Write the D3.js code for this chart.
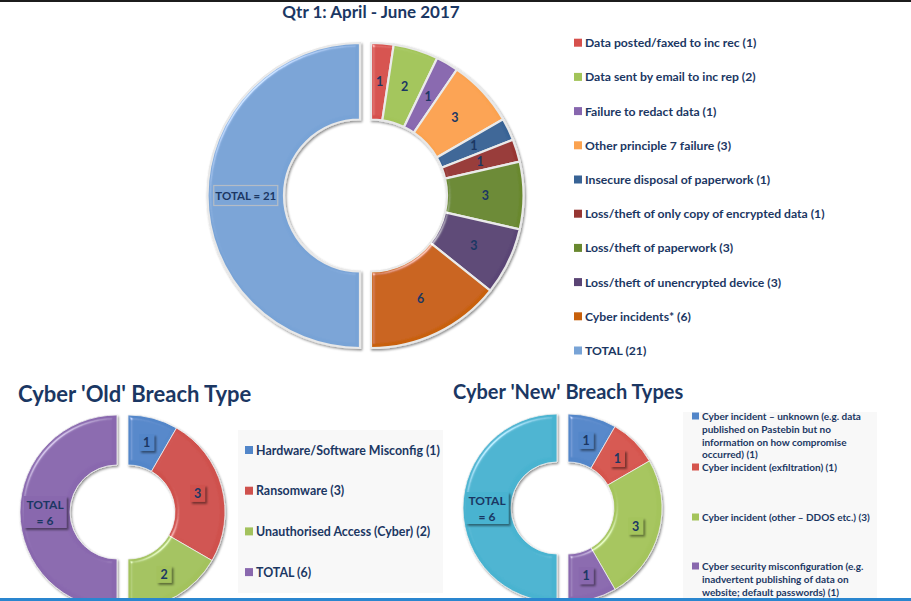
<!DOCTYPE html>
<html><head><meta charset="utf-8">
<script src="https://cdn.jsdelivr.net/npm/d3@7"></script>
<style>
html,body{margin:0;padding:0;background:#fff;}
svg{display:block;font-family:Lato,"Open Sans",sans-serif;}
</style></head>
<body>
<script>
// ---------- DATA ----------
const mainTitle = "Qtr 1: April - June 2017";
const mainCategories = ["Data posted/faxed to inc rec","Data sent by email to inc rep","Failure to redact data","Other principle 7 failure","Insecure disposal of paperwork","Loss/theft of only copy of encrypted data","Loss/theft of paperwork","Loss/theft of unencrypted device","Cyber incidents*","TOTAL"];
const mainValues = [1,2,1,3,1,1,3,3,6,21];
const mainColors = ["#d6504c","#a2c459","#8766ae","#fba24f","#386395","#963532","#69882f","#5a4474","#c8600a","#78a3d6"];

const oldTitle = "Cyber 'Old' Breach Type";
const oldCategories = ["Hardware/Software Misconfig","Ransomware","Unauthorised Access (Cyber)","TOTAL"];
const oldValues = [1,3,2,6];
const oldColors = ["#5286c9","#cf514d","#a3c25d","#8968ae"];

const newTitle = "Cyber 'New' Breach Types";
const newCategories = ["Cyber incident \u2013 unknown (e.g. data published on Pastebin but no information on how compromise occurred)","Cyber incident (exfiltration)","Cyber incident (other \u2013 DDOS etc.)","Cyber security misconfiguration (e.g. inadvertent publishing of data on website; default passwords)","TOTAL"];
const newValues = [1,1,3,1,6];
const newColors = ["#5286c9","#d5554d","#a4c45b","#8968ae","#4ab3d0"];

// ---------- SETUP ----------
const W = 911, H = 601;
const navy = "#1b3763";
const svg = d3.select("body").append("svg").attr("width", W).attr("height", H);
svg.append("rect").attr("width", W).attr("height", H).attr("fill", "#fff");

const defs = svg.append("defs");
const bev = defs.append("filter").attr("id","bev").attr("x","-20%").attr("y","-20%").attr("width","140%").attr("height","140%");
bev.append("feGaussianBlur").attr("in","SourceAlpha").attr("stdDeviation",2).attr("result","b");
const sp = bev.append("feSpecularLighting").attr("in","b").attr("surfaceScale",4).attr("specularConstant",0.45)
  .attr("specularExponent",35).attr("lighting-color","#ffffff").attr("result","s");
sp.append("feDistantLight").attr("azimuth",225).attr("elevation",38);
bev.append("feComposite").attr("in","s").attr("in2","SourceAlpha").attr("operator","in").attr("result","s2");
bev.append("feComposite").attr("in","SourceGraphic").attr("in2","s2").attr("operator","arithmetic")
  .attr("k1",0).attr("k2",1).attr("k3",1).attr("k4",0).attr("result","lit");
bev.append("feDropShadow").attr("in","lit").attr("dx",1.2).attr("dy",1.5).attr("stdDeviation",1.3)
  .attr("flood-color","#000").attr("flood-opacity",0.45);

const shadowF = defs.append("filter").attr("id","lblsh").attr("x","-30%").attr("y","-30%").attr("width","170%").attr("height","170%");
shadowF.append("feDropShadow").attr("dx",2).attr("dy",2).attr("stdDeviation",1.2).attr("flood-color","#000").attr("flood-opacity",0.45);

// top dark edge
svg.append("rect").attr("x",0).attr("y",0).attr("width",W).attr("height",2).attr("fill","#1c1c1c");

function donut(opt){
  const g = svg.append("g").attr("transform",`translate(${opt.cx},${opt.cy})`);
  const pie = d3.pie().sort(null).value(d=>d)(opt.values);
  const arc = d3.arc().innerRadius(opt.ri).outerRadius(opt.ro);
  const last = opt.values.length - 1;
  const slices = g.append("g").attr("filter","url(#bev)");
  pie.forEach((p,i)=>{
    const dx = i===last ? -opt.gap : opt.gap;
    slices.append("path").attr("transform",`translate(${dx},0)`)
      .attr("d",arc(p)).attr("fill",opt.colors[i])
      .attr("stroke",opt.stroke).attr("stroke-width",opt.strokeW);
  });
  const lblArc = d3.arc().innerRadius((opt.ri+opt.ro)/2).outerRadius((opt.ri+opt.ro)/2);
  pie.forEach((p,i)=>{
    const dx = i===last ? -opt.gap : opt.gap;
    const [x,y] = lblArc.centroid(p);
    const lg = g.append("g").attr("transform",`translate(${x+dx},${y})`);
    if(i===last){
      if(opt.boxed){
        lg.append("rect").attr("x",-21.5).attr("y",-16).attr("width",43).attr("height",32)
          .attr("fill",opt.colors[i]).attr("filter","url(#lblsh)");
        lg.append("text").attr("y",-7.5).attr("text-anchor","middle").attr("dominant-baseline","central")
          .attr("font-size",12).attr("font-weight","bold").attr("fill",navy).text("TOTAL");
        lg.append("text").attr("y",8).attr("text-anchor","middle").attr("dominant-baseline","central")
          .attr("font-size",12).attr("font-weight","bold").attr("fill",navy).text("= " + opt.values[i]);
      } else {
        lg.append("rect").attr("x",-32).attr("y",-10).attr("width",64).attr("height",20)
          .attr("fill","none").attr("stroke","#b4bcc6").attr("stroke-width",1.2);
        lg.append("text").attr("text-anchor","middle").attr("dominant-baseline","central")
          .attr("font-size",11.5).attr("font-weight","bold").attr("fill",navy).text("TOTAL = " + opt.values[i]);
      }
    } else {
      if(opt.boxed){
        lg.append("rect").attr("x",-7.5).attr("y",-8.5).attr("width",15).attr("height",17)
          .attr("fill",opt.colors[i]).attr("filter","url(#lblsh)");
      }
      lg.append("text").attr("text-anchor","middle").attr("dominant-baseline","central")
        .attr("font-size",12.5).attr("font-weight","bold").attr("fill",navy).text(opt.values[i]);
    }
  });
}

// ---------- MAIN ----------
svg.append("text").attr("x",371).attr("y",18).attr("text-anchor","middle")
  .attr("font-size",17).attr("font-weight","bold").attr("fill",navy).text(mainTitle);
donut({cx:365.5, cy:195.5, ri:76, ro:152.5, gap:5.5, values:mainValues, colors:mainColors, boxed:false, stroke:"#e8e8e8", strokeW:2.2});

const mainLeg = svg.append("g");
mainCategories.forEach((c,i)=>{
  const y = 42.7 + i*34.2;
  mainLeg.append("rect").attr("x",574).attr("y",y-4).attr("width",8).attr("height",8).attr("fill",mainColors[i]);
  mainLeg.append("text").attr("x",585).attr("y",y).attr("dominant-baseline","central")
    .attr("font-size",12.2).attr("font-weight","bold").attr("fill",navy).text(`${c} (${mainValues[i]})`);
});

// ---------- OLD ----------
svg.append("text").attr("x",18).attr("y",402).attr("font-size",22).attr("font-weight","bold").attr("fill",navy).text(oldTitle);
svg.append("rect").attr("x",238).attr("y",430).attr("width",205).attr("height",163).attr("fill","#f8f8f8");
donut({cx:122.5, cy:512, ri:47, ro:97, gap:5.5, values:oldValues, colors:oldColors, boxed:true, stroke:"#f0f0f0", strokeW:0.8});
oldCategories.forEach((c,i)=>{
  const y = 450 + i*40.7;
  svg.append("rect").attr("x",245).attr("y",y-4).attr("width",8).attr("height",8).attr("fill",oldColors[i]);
  svg.append("text").attr("x",256).attr("y",y).attr("dominant-baseline","central")
    .attr("font-size",12.4).attr("font-weight","bold").attr("fill",navy).text(`${c} (${oldValues[i]})`);
});

// ---------- NEW ----------
svg.append("text").attr("x",453).attr("y",399).attr("font-size",20).attr("font-weight","bold").attr("fill",navy).text(newTitle);
svg.append("rect").attr("x",683).attr("y",412).attr("width",194).attr("height",189).attr("fill","#f8f8f8");
donut({cx:562.5, cy:508, ri:46, ro:94, gap:5.5, values:newValues, colors:newColors, boxed:true, stroke:"#f0f0f0", strokeW:0.8});

const newLegY = [416, 467, 517, 566];
const newLegCount = newCategories.length - 1; // TOTAL not listed
for(let i=0;i<newLegCount;i++){
  const y0 = newLegY[i];
  svg.append("rect").attr("x",692).attr("y",y0-3.5).attr("width",7).attr("height",7).attr("fill",newColors[i]);
  const t = svg.append("text").attr("font-size",10).attr("font-weight","bold").attr("fill",navy);
  const words = `${newCategories[i]} (${newValues[i]})`.split(" ");
  let line = [], ln = 0;
  let ts = t.append("tspan").attr("x",702).attr("y",y0).attr("dominant-baseline","central");
  words.forEach(w=>{
    line.push(w);
    ts.text(line.join(" "));
    if(ts.node().getComputedTextLength() > 170 && line.length>1){
      line.pop(); ts.text(line.join(" "));
      line=[w]; ln++;
      ts = t.append("tspan").attr("x",702).attr("y",y0 + ln*12.8).attr("dominant-baseline","central").text(w);
    }
  });
}

// bottom window strip
svg.append("rect").attr("x",0).attr("y",598).attr("width",W).attr("height",3).attr("fill","#2a86cf");
</script>
</body></html>
